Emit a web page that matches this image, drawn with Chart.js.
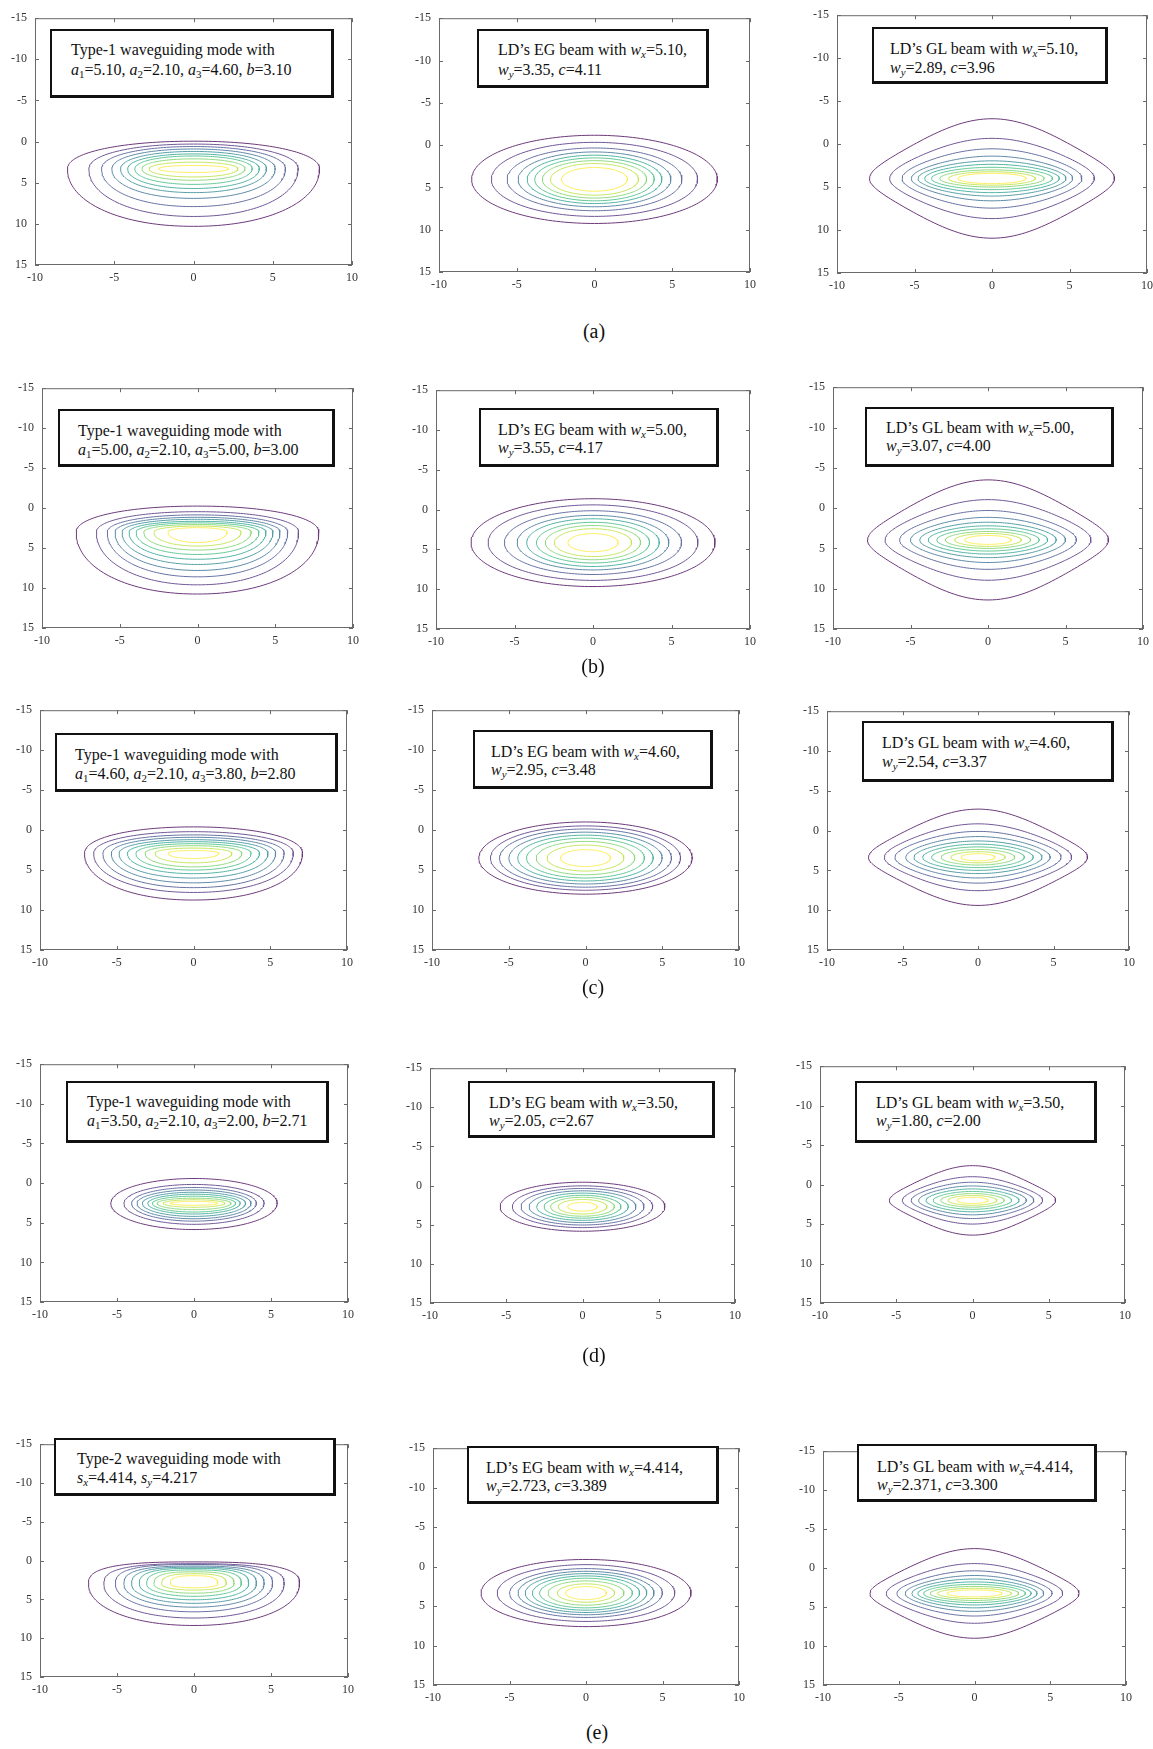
<!DOCTYPE html>
<html>
<head>
<meta charset="utf-8">
<script src="https://cdn.jsdelivr.net/npm/chart.js@4.4.1/dist/chart.umd.min.js"></script>
<style>
  html, body { margin: 0; padding: 0; background: #fff; width: 1153px; height: 1749px; overflow: hidden; }
  #page { position: relative; width: 1153px; height: 1749px; }
  canvas.panel { position: absolute; }
  .note { position: absolute; box-sizing: border-box; border: 2px solid #111; border-right-width: 3px; border-bottom-width: 3px; background: #fff; }
  .line { position: absolute; white-space: nowrap; font-family: "Liberation Serif", "DejaVu Serif", serif; font-size: 16px; line-height: 18px; color: #111; }
  .line sub { font-size: 0.68em; vertical-align: -0.3em; line-height: 0; }
  .cap { position: absolute; transform: translateX(-50%); font-family: "Liberation Serif", serif; font-size: 20px; line-height: 24px; color: #111; }
</style>
</head>
<body>
<div id="page"></div>
<script>
// axis ticks shared by every panel
const xTicks = [-10, -5, 0, 5, 10];
const yTicks = [-15, -10, -5, 0, 5, 10, 15];
const rowLabels = ['(a)', '(b)', '(c)', '(d)', '(e)'];

// left column: waveguiding modes, each contour = [half width, top y, bottom y]
const modeCentre = [3.3, 3.0, 2.9, 2.55, 3.0];
const modeRoundUp = [2.1, 2.1, 2.1, 2.0, 2.8];
const modeRoundDown = [2.1, 2.1, 2.1, 2.0, 2.1];
const modeA = [[7.95, -0.05, 10.3], [6.6, 0.3, 9.1], [5.8, 0.6, 7.9], [5.15, 0.9, 6.9], [4.6, 1.2, 6.2], [4.15, 1.5, 5.7], [3.7, 1.75, 5.2], [3.25, 2.1, 4.7], [2.8, 2.5, 4.3], [2.2, 2.9, 3.75]];
const modeB = [[7.8, -0.25, 10.75], [6.5, 0.45, 9.6], [5.8, 0.85, 8.6], [5.3, 1.15, 7.8], [4.85, 1.4, 7.05], [4.4, 1.65, 6.4], [3.95, 1.85, 5.8], [3.45, 2.05, 5.25], [2.8, 2.25, 4.75], [1.9, 2.45, 4.3]];
const modeC = [[7.1, -0.4, 8.75], [6.5, 0.2, 7.8], [5.9, 0.6, 7.2], [5.35, 0.9, 6.6], [4.85, 1.2, 6.0], [4.3, 1.45, 5.45], [3.75, 1.7, 5.0], [3.15, 1.95, 4.6], [2.5, 2.25, 4.1], [1.65, 2.55, 3.55]];
const modeD = [[5.4, -0.58, 5.86], [4.55, 0.17, 5.2], [4.05, 0.55, 4.8], [3.7, 0.87, 4.5], [3.35, 1.15, 4.2], [3.0, 1.4, 3.9], [2.7, 1.65, 3.65], [2.4, 1.9, 3.35], [2.0, 2.1, 3.05], [1.55, 2.3, 2.8]];
const modeE = [[6.85, 0.17, 8.36], [5.85, 0.4, 7.4], [5.1, 0.5, 6.6], [4.55, 0.7, 6.0], [4.05, 0.85, 5.5], [3.55, 1.0, 5.05], [3.07, 1.2, 4.6], [2.6, 1.45, 4.2], [2.1, 1.7, 3.8], [1.55, 1.95, 3.5]];
const modeContours = [modeA, modeB, modeC, modeD, modeE];

// middle column: EG beam ellipses, half widths of each contour
const egCentre = [4.05, 4.15, 3.5, 2.7, 3.35];
const egAspect = [0.66, 0.71, 0.65, 0.58, 0.62];
const egA = [7.9, 6.63, 5.62, 4.91, 4.33, 3.84, 3.35, 2.83, 2.12];
const egB = [7.77, 6.68, 5.64, 4.83, 4.22, 3.6, 3.03, 2.46, 1.6];
const egC = [6.95, 6.19, 5.6, 4.99, 4.41, 3.84, 3.21, 2.5, 1.63];
const egD = [5.4, 4.6, 4.03, 3.5, 3.0, 2.52, 2.09, 1.6, 0.97];
const egE = [6.86, 5.8, 4.99, 4.44, 3.97, 3.5, 3.03, 2.48, 1.87, 1.33];
const egContours = [egA, egB, egC, egD, egE];

// right column: GL beam, each contour = [half width, half height]
const glCentre = [4.0, 3.95, 3.35, 2.0, 3.25];
// how far each contour leans from an ellipse towards a rounded rhombus
const glSharp = [2.3, 1.6, 1.2, 0.92, 0.69, 0.51, 0.36, 0.22, 0.11, 0.05];
const glA = [[7.9, 6.95], [6.6, 4.67], [5.8, 3.45], [5.2, 2.6], [4.77, 2.05], [4.34, 1.65], [3.9, 1.3], [3.37, 1.0], [2.8, 0.78], [2.2, 0.6]];
const glB = [[7.77, 7.45], [6.64, 5.0], [5.7, 3.65], [5.0, 2.8], [4.4, 2.2], [3.85, 1.75], [3.3, 1.38], [2.75, 1.05], [2.15, 0.8], [1.5, 0.55]];
const glC = [[7.25, 6.05], [6.2, 4.2], [5.5, 3.25], [4.78, 2.6], [4.24, 2.05], [3.66, 1.65], [3.07, 1.3], [2.44, 0.98], [1.8, 0.7], [1.12, 0.45]];
const glD = [[5.45, 4.4], [4.6, 3.0], [4.02, 2.3], [3.53, 1.83], [3.05, 1.45], [2.57, 1.13], [2.08, 0.86], [1.6, 0.62], [1.02, 0.4]];
const glE = [[6.9, 5.75], [5.82, 3.83], [5.12, 2.9], [4.57, 2.3], [4.13, 1.85], [3.74, 1.48], [3.36, 1.17], [2.92, 0.9], [2.44, 0.66], [1.82, 0.45]];
const glContours = [glA, glB, glC, glD, glE];

// parameters printed in the boxes
const modeParams = [['5.10', '2.10', '4.60', '3.10'], ['5.00', '2.10', '5.00', '3.00'], ['4.60', '2.10', '3.80', '2.80'], ['3.50', '2.10', '2.00', '2.71']];
const type2Params = ['4.414', '4.217'];
const egParams = [['5.10', '3.35', '4.11'], ['5.00', '3.55', '4.17'], ['4.60', '2.95', '3.48'], ['3.50', '2.05', '2.67'], ['4.414', '2.723', '3.389']];
const glParams = [['5.10', '2.89', '3.96'], ['5.00', '3.07', '4.00'], ['4.60', '2.54', '3.37'], ['3.50', '1.80', '2.00'], ['4.414', '2.371', '3.300']];

// page layout: plot area [left, top, right, bottom], row by row
const plotBoxes = [
  [35, 15, 352, 265], [439, 15, 750, 272], [837, 12, 1147, 273],
  [42, 385, 353, 628], [436, 387, 750, 629], [833, 384, 1143, 629],
  [40, 707, 347, 950], [432, 707, 739, 950], [827, 708, 1129, 950],
  [40, 1061, 348, 1302], [430, 1065, 735, 1303], [820, 1063, 1125, 1303],
  [40, 1441, 348, 1677], [433, 1445, 739, 1685], [823, 1448, 1126, 1685]
];
const noteBoxes = [
  [50, 29, 334, 98], [477, 29, 709, 88], [872, 27, 1108, 84],
  [58, 409, 335, 467], [479, 408, 719, 467], [865, 407, 1114, 467],
  [55, 733, 338, 792], [473, 730, 713, 789], [862, 721, 1114, 782],
  [66, 1081, 329, 1143], [468, 1081, 715, 1138], [855, 1081, 1097, 1143],
  [54, 1438, 336, 1496], [467, 1446, 719, 1504], [857, 1444, 1097, 1502]
];
const noteText = [
  [71, 50, 70], [498, 50, 70], [890, 49, 68],
  [78, 431, 450], [498, 430, 448], [886, 428, 446],
  [75, 755, 774], [491, 752, 770], [882, 743, 762],
  [87, 1102, 1121], [489, 1103, 1121], [876, 1103, 1121],
  [77, 1459, 1478], [486, 1468, 1486], [877, 1467, 1485]
];
const captionPos = [[594, 331], [593, 666], [593, 987], [594, 1355], [597, 1732]];

const viridis = ['#440154', '#482878', '#3e4989', '#31688e', '#26828e', '#1f9e89', '#35b779', '#6ece58', '#b5de2b', '#fde725'];

// thin contour lines in the figure read paler than the colormap itself
function soften(hex, amount) {
  const n = parseInt(hex.slice(1), 16);
  const ch = [(n >> 16) & 255, (n >> 8) & 255, n & 255].map(v => Math.round(v + (255 - v) * amount));
  return `rgb(${ch[0]},${ch[1]},${ch[2]})`;
}

const spow = (v, e) => Math.sign(v) * Math.pow(Math.abs(v), e);

// closed contour: half width hw, extent up / down from the widest row cy
function ring(hw, up, down, cy, pUp, pDown) {
  const pts = [];
  const n = 180;
  for (let i = 0; i <= n; i++) {
    const t = (i / n) * 2 * Math.PI;
    const c = Math.cos(t), s = Math.sin(t);
    const p = s < 0 ? pUp : pDown;
    const x = hw * spow(c, 2 / p);
    const y = s < 0 ? cy - up * Math.pow(-s, 2 / p) : cy + down * Math.pow(s, 2 / p);
    pts.push({ x: x, y: y });
  }
  return pts;
}

// rounded rhombus: bell-shaped top and bottom, vertical tangent at the tips
function bell(hw, hh, cy, k) {
  const prof = u => Math.sqrt(Math.max(0, (Math.exp(k * (1 - u * u)) - 1) / (Math.exp(k) - 1)));
  const pts = [];
  const n = 90;
  for (let i = 0; i <= n; i++) {
    const u = -Math.cos((i / n) * Math.PI);
    pts.push({ x: hw * u, y: cy - hh * prof(u) });
  }
  for (let i = 1; i <= n; i++) {
    const u = Math.cos((i / n) * Math.PI);
    pts.push({ x: hw * u, y: cy + hh * prof(u) });
  }
  return pts;
}

function contourData(r, col) {
  if (col === 0) {
    const cy = modeCentre[r];
    return modeContours[r].map(([hw, top, bottom]) => ring(hw, cy - top, bottom - cy, cy, modeRoundUp[r], modeRoundDown[r]));
  }
  if (col === 1) {
    const cy = egCentre[r];
    return egContours[r].map(hw => ring(hw, hw * egAspect[r], hw * egAspect[r], cy, 2, 2));
  }
  const cy = glCentre[r];
  return glContours[r].map(([hw, hh], i) => bell(hw, hh, cy, glSharp[i]));
}

const framePlugin = {
  id: 'frame',
  afterDraw(chart) {
    const { ctx, chartArea: a, scales } = chart;
    ctx.save();
    ctx.strokeStyle = '#6a6a6a';
    ctx.lineWidth = 1;
    ctx.strokeRect(a.left + 0.5, a.top + 0.5, a.width - 1, a.height - 1);
    ctx.beginPath();
    scales.x.ticks.forEach(t => {
      const px = Math.round(scales.x.getPixelForValue(t.value)) + 0.5;
      ctx.moveTo(px, a.bottom); ctx.lineTo(px, a.bottom - 4);
      ctx.moveTo(px, a.top); ctx.lineTo(px, a.top + 4);
    });
    scales.y.ticks.forEach(t => {
      const py = Math.round(scales.y.getPixelForValue(t.value)) + 0.5;
      ctx.moveTo(a.left, py); ctx.lineTo(a.left + 4, py);
      ctx.moveTo(a.right, py); ctx.lineTo(a.right - 4, py);
    });
    ctx.stroke();
    ctx.restore();
  }
};

const tickFont = { family: '"Liberation Serif", "DejaVu Serif", serif', size: 12 };
const page = document.getElementById('page');
const padL = 45, padT = 12, padR = 15, padB = 30;

function makePanel(r, col) {
  const k = r * 3 + col;
  const [L, T, R, B] = plotBoxes[k];
  const canvas = document.createElement('canvas');
  canvas.className = 'panel';
  canvas.width = R - L + padL + padR;
  canvas.height = B - T + padT + padB;
  canvas.style.left = (L - padL) + 'px';
  canvas.style.top = (T - padT) + 'px';
  page.appendChild(canvas);

  const rings = contourData(r, col);
  const n = rings.length;
  const datasets = rings.map((pts, i) => ({
    data: pts,
    showLine: true,
    borderColor: soften(viridis[Math.round(i * 9 / (n - 1))], 0.22),
    borderWidth: 1,
    pointRadius: 0,
    tension: 0,
    fill: false
  }));

  new Chart(canvas.getContext('2d'), {
    type: 'scatter',
    data: { datasets: datasets },
    options: {
      responsive: false,
      animation: false,
      events: [],
      layout: { padding: { left: 0, top: padT, right: padR, bottom: 0 } },
      plugins: { legend: { display: false }, tooltip: { enabled: false } },
      scales: {
        x: {
          type: 'linear', min: -10, max: 10,
          afterBuildTicks: s => { s.ticks = xTicks.map(v => ({ value: v })); },
          afterFit: s => { s.height = padB; },
          grid: { display: false, drawTicks: false },
          border: { display: false },
          ticks: { padding: 6, color: '#333', font: tickFont, maxRotation: 0, autoSkip: false }
        },
        y: {
          type: 'linear', min: -15, max: 15, reverse: true,
          afterBuildTicks: s => { s.ticks = yTicks.map(v => ({ value: v })); },
          afterFit: s => { s.width = padL; },
          grid: { display: false, drawTicks: false },
          border: { display: false },
          ticks: { padding: 8, color: '#333', font: tickFont, autoSkip: false }
        }
      }
    },
    plugins: [framePlugin]
  });
}

const it = (v, s) => `<i>${v}</i><sub>${s}</sub>`;

function noteLines(r, col) {
  if (col === 0) {
    if (r < 4) {
      const p = modeParams[r];
      return ['Type-1 waveguiding mode with',
        `${it('a', '1')}=${p[0]}, ${it('a', '2')}=${p[1]}, ${it('a', '3')}=${p[2]}, <i>b</i>=${p[3]}`];
    }
    return ['Type-2 waveguiding mode with',
      `<i>s<sub>x</sub></i>=${type2Params[0]}, <i>s<sub>y</sub></i>=${type2Params[1]}`];
  }
  const p = col === 1 ? egParams[r] : glParams[r];
  const name = col === 1 ? 'EG' : 'GL';
  return [`LD\u2019s ${name} beam with <i>w<sub>x</sub></i>=${p[0]},`,
    `<i>w<sub>y</sub></i>=${p[1]}, <i>c</i>=${p[2]}`];
}

function makeNote(r, col) {
  const k = r * 3 + col;
  const [L, T, R, B] = noteBoxes[k];
  const box = document.createElement('div');
  box.className = 'note';
  box.style.left = L + 'px';
  box.style.top = T + 'px';
  box.style.width = (R - L) + 'px';
  box.style.height = (B - T) + 'px';
  page.appendChild(box);
  const [tx, c1, c2] = noteText[k];
  noteLines(r, col).forEach((html, i) => {
    const d = document.createElement('div');
    d.className = 'line';
    d.innerHTML = html;
    d.style.left = tx + 'px';
    d.style.top = ((i === 0 ? c1 : c2) - 9) + 'px';
    page.appendChild(d);
  });
}

for (let r = 0; r < 5; r++) {
  for (let col = 0; col < 3; col++) {
    makePanel(r, col);
    makeNote(r, col);
  }
  const cap = document.createElement('div');
  cap.className = 'cap';
  cap.textContent = rowLabels[r];
  cap.style.left = captionPos[r][0] + 'px';
  cap.style.top = (captionPos[r][1] - 12) + 'px';
  page.appendChild(cap);
}
</script>
</body>
</html>
